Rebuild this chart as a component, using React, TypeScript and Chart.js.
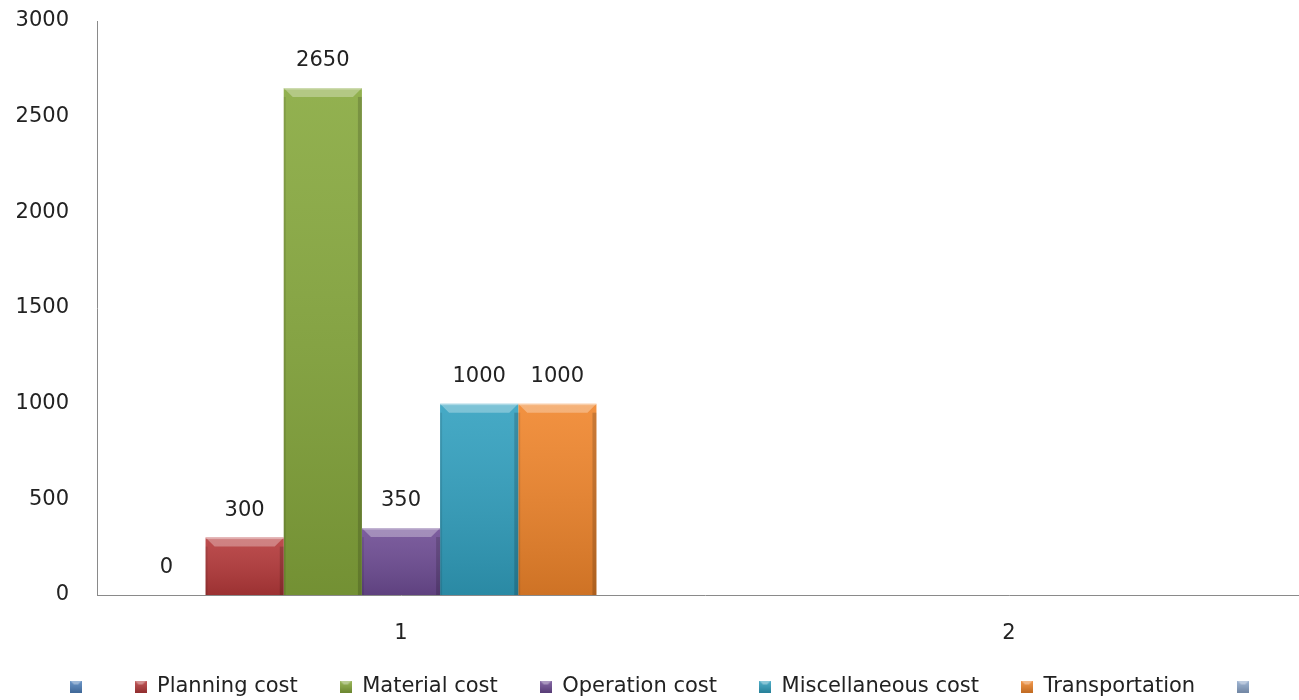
import { useEffect, useRef } from "react";
import { Chart, registerables } from "chart.js";

Chart.register(...registerables);

const categories = ["1", "2"];
const seriesNames = ["", "Planning cost", "Material cost", "Operation cost", "Miscellaneous cost", "Transportation", ""];
const blankSeries: (number | null)[] = [0, null];
const planningCost: (number | null)[] = [300, null];
const materialCost: (number | null)[] = [2650, null];
const operationCost: (number | null)[] = [350, null];
const miscellaneousCost: (number | null)[] = [1000, null];
const transportation: (number | null)[] = [1000, null];
const blankSeries2: (number | null)[] = [null, null];
const seriesValues = [blankSeries, planningCost, materialCost, operationCost, miscellaneousCost, transportation, blankSeries2];
const seriesColors = ["#4F81BD", "#B5393A", "#86A83C", "#6E4C94", "#31A0BF", "#F0852B", "#8EA8CC"];
const yMin = 0;
const yMax = 3000;
const yStep = 500;

const FONT = "'DejaVu Sans', sans-serif";

function makeIcon(color: string): HTMLCanvasElement {
  const c = document.createElement("canvas");
  c.width = 12;
  c.height = 12;
  const g = c.getContext("2d")!;
  g.fillStyle = color;
  g.fillRect(0, 0, 12, 12);
  const gr = g.createLinearGradient(0, 0, 0, 12);
  gr.addColorStop(0, "rgba(255,255,255,0.15)");
  gr.addColorStop(1, "rgba(0,0,0,0.2)");
  g.fillStyle = gr;
  g.fillRect(0, 0, 12, 12);
  g.beginPath();
  g.moveTo(0, 0);
  g.lineTo(12, 0);
  g.lineTo(8, 4);
  g.lineTo(4, 4);
  g.closePath();
  g.fillStyle = "rgba(255,255,255,0.35)";
  g.fill();
  return c;
}

const bevelPlugin = {
  id: "bevelAndLabels",
  afterDatasetsDraw(chart: any) {
    const ctx: CanvasRenderingContext2D = chart.ctx;
    chart.data.datasets.forEach((ds: any, di: number) => {
      const meta = chart.getDatasetMeta(di);
      meta.data.forEach((el: any, i: number) => {
        const v = ds.data[i];
        if (v === null || v === undefined) return;
        const { x, y, base, width } = el.getProps(["x", "y", "base", "width"], true);
        const h = base - y;
        const l = x - width / 2;
        const r = x + width / 2;
        ctx.save();
        if (h > 1) {
          const g = ctx.createLinearGradient(0, y, 0, base);
          g.addColorStop(0, "rgba(255,255,255,0.10)");
          g.addColorStop(1, "rgba(0,0,0,0.14)");
          ctx.fillStyle = g;
          ctx.fillRect(l, y, width, h);
          const b = Math.min(9, h / 2);
          ctx.beginPath();
          ctx.moveTo(l, y);
          ctx.lineTo(r, y);
          ctx.lineTo(r - b, y + b);
          ctx.lineTo(l + b, y + b);
          ctx.closePath();
          ctx.fillStyle = "rgba(255,255,255,0.3)";
          ctx.fill();
          ctx.fillStyle = "rgba(255,255,255,0.35)";
          ctx.fillRect(l, y, width, 1.5);
          ctx.fillStyle = "rgba(0,0,0,0.10)";
          ctx.fillRect(l, y + b, 2, h - b);
          ctx.fillStyle = "rgba(0,0,0,0.16)";
          ctx.fillRect(r - 4, y + b, 4, h - b);
        }
        ctx.fillStyle = "#222";
        ctx.font = `21px ${FONT}`;
        ctx.textAlign = "center";
        ctx.textBaseline = "middle";
        ctx.fillText(String(v), x, y - 27);
        ctx.restore();
      });
    });
  },
};

const legendPlace = {
  id: "legendPlace",
  afterLayout(chart: any) {
    const lg = chart.legend;
    if (!lg) return;
    const w = lg.width;
    const h = lg.height;
    lg.left = 28;
    lg.right = 28 + w;
    lg.top = 634;
    lg.bottom = 634 + h;
  },
};

export default function App() {
  const ref = useRef<HTMLCanvasElement | null>(null);
  useEffect(() => {
    if (!ref.current) return;
    const icons = seriesColors.map(makeIcon);
    const chart = new Chart(ref.current, {
      type: "bar",
      data: {
        labels: categories,
        datasets: seriesValues.map((vals, i) => ({
          label: seriesNames[i],
          data: vals,
          backgroundColor: seriesColors[i],
          borderWidth: 0,
          categoryPercentage: 0.9,
          barPercentage: 1.0,
        })),
      },
      options: {
        responsive: false,
        animation: false,
        layout: { padding: { top: 21, left: 0, right: 0, bottom: -16 } },
        plugins: {
          tooltip: { enabled: false },
          legend: {
            position: "bottom",
            align: "start",
            labels: {
              usePointStyle: true,
              boxWidth: 12,
              boxHeight: 12,
              padding: 42,
              color: "#222",
              font: { family: FONT, size: 21 },
              generateLabels: () =>
                seriesNames.map((t, i) => ({
                  text: t,
                  fillStyle: seriesColors[i],
                  strokeStyle: "rgba(0,0,0,0)",
                  lineWidth: 0,
                  pointStyle: icons[i],
                  hidden: false,
                  datasetIndex: i,
                  fontColor: "#222",
                })),
            },
          },
        },
        scales: {
          x: {
            grid: { display: false, drawTicks: false },
            border: { display: true, color: "#8a8a8a", width: 1 },
            ticks: { padding: 26, color: "#222", font: { family: FONT, size: 21 } },
            afterFit: (s: any) => {
              s.height = 48;
            },
          },
          y: {
            min: yMin,
            max: yMax,
            grid: { display: false, drawTicks: true, tickLength: 28, tickColor: "rgba(0,0,0,0)" },
            border: { display: true, color: "#8a8a8a", width: 1 },
            ticks: {
              stepSize: yStep,
              padding: 0,
              color: "#222",
              font: { family: FONT, size: 21 },
              callback: (v: any) => String(v),
            },
            afterFit: (s: any) => {
              s.width = 97;
            },
          },
        },
      },
      plugins: [bevelPlugin, legendPlace],
    });
    return () => chart.destroy();
  }, []);
  return (
    <div style={{ position: "absolute", left: 0, top: 0, width: 1299, height: 700, overflow: "hidden", background: "#fff" }}>
      <canvas ref={ref} width={1313} height={700} style={{ display: "block" }} />
    </div>
  );
}
